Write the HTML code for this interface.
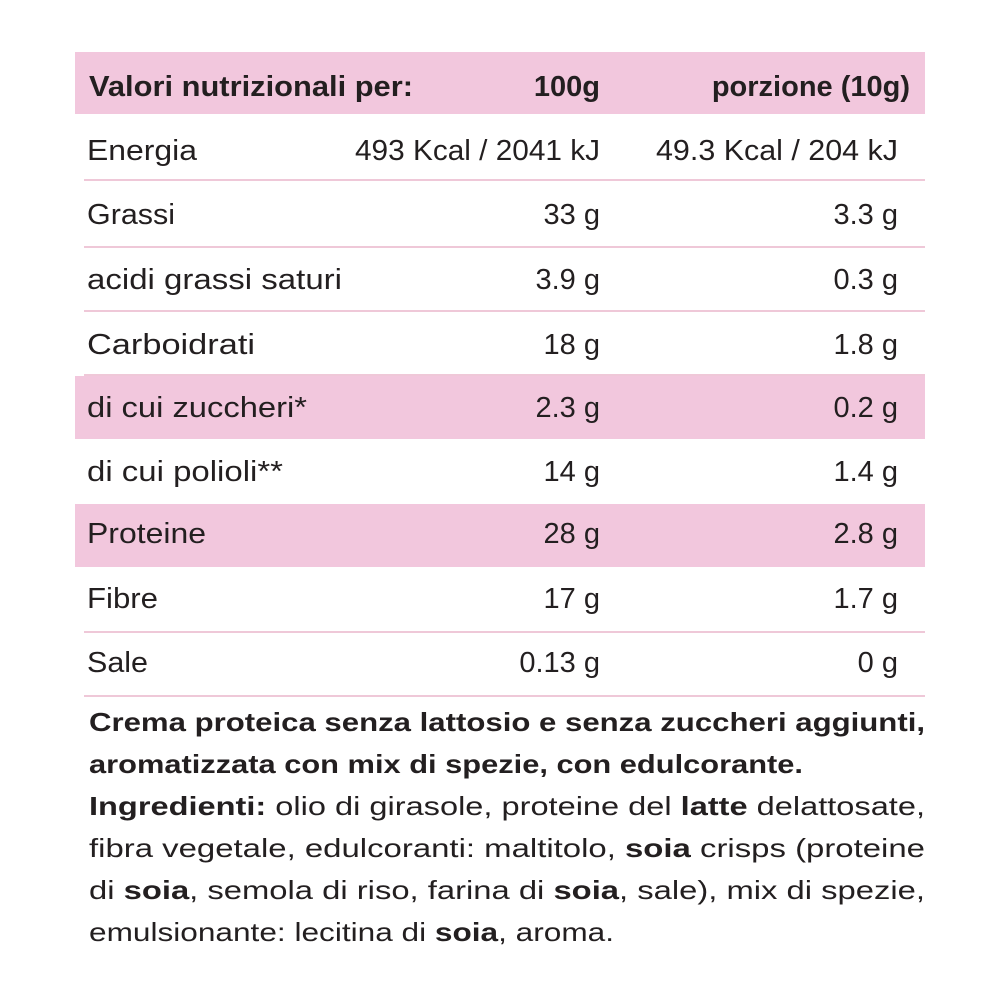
<!DOCTYPE html>
<html><head><style>html,body{margin:0;padding:0;background:#fff}svg{display:block}</style></head>
<body>
<svg width="1000" height="1000" viewBox="0 0 1000 1000" xmlns="http://www.w3.org/2000/svg" font-family="Liberation Sans, sans-serif" fill="#231f20">
<rect x="75" y="52" width="850" height="62" fill="#f2c7dd"/>
<rect x="75" y="376" width="850" height="63" fill="#f2c7dd"/>
<rect x="75" y="504" width="850" height="63" fill="#f2c7dd"/>
<g fill="#efc8d8">
<rect x="84" y="179" width="841" height="2"/>
<rect x="84" y="246" width="841" height="2"/>
<rect x="84" y="310" width="841" height="2"/>
<rect x="84" y="374" width="841" height="2"/>
<rect x="84" y="631" width="841" height="2"/>
<rect x="84" y="695" width="841" height="2"/>
</g>
<g font-size="29" font-weight="bold">
<text x="89" y="96" textLength="324" lengthAdjust="spacingAndGlyphs">Valori nutrizionali per:</text>
<text x="600" y="96" text-anchor="end">100g</text>
<text x="910" y="96" text-anchor="end">porzione (10g)</text>
</g>
<g font-size="29">
<text x="87" y="160" textLength="110" lengthAdjust="spacingAndGlyphs">Energia</text>
<text x="355" y="160" textLength="245" lengthAdjust="spacingAndGlyphs">493 Kcal / 2041 kJ</text>
<text x="656" y="160" textLength="242" lengthAdjust="spacingAndGlyphs">49.3 Kcal / 204 kJ</text>
<text x="87" y="224" textLength="88" lengthAdjust="spacingAndGlyphs">Grassi</text>
<text x="600" y="224" text-anchor="end">33 g</text>
<text x="898" y="224" text-anchor="end">3.3 g</text>
<text x="87" y="289" textLength="255" lengthAdjust="spacingAndGlyphs">acidi grassi saturi</text>
<text x="600" y="289" text-anchor="end">3.9 g</text>
<text x="898" y="289" text-anchor="end">0.3 g</text>
<text x="87" y="354" textLength="168" lengthAdjust="spacingAndGlyphs">Carboidrati</text>
<text x="600" y="354" text-anchor="end">18 g</text>
<text x="898" y="354" text-anchor="end">1.8 g</text>
<text x="87" y="417" textLength="220" lengthAdjust="spacingAndGlyphs">di cui zuccheri*</text>
<text x="600" y="417" text-anchor="end">2.3 g</text>
<text x="898" y="417" text-anchor="end">0.2 g</text>
<text x="87" y="481" textLength="196" lengthAdjust="spacingAndGlyphs">di cui polioli**</text>
<text x="600" y="481" text-anchor="end">14 g</text>
<text x="898" y="481" text-anchor="end">1.4 g</text>
<text x="87" y="543" textLength="119" lengthAdjust="spacingAndGlyphs">Proteine</text>
<text x="600" y="543" text-anchor="end">28 g</text>
<text x="898" y="543" text-anchor="end">2.8 g</text>
<text x="87" y="608" textLength="71" lengthAdjust="spacingAndGlyphs">Fibre</text>
<text x="600" y="608" text-anchor="end">17 g</text>
<text x="898" y="608" text-anchor="end">1.7 g</text>
<text x="87" y="672" textLength="61" lengthAdjust="spacingAndGlyphs">Sale</text>
<text x="600" y="672" text-anchor="end">0.13 g</text>
<text x="898" y="672" text-anchor="end">0 g</text>
</g>
<g font-size="26">
<text x="89" y="731" font-weight="bold" textLength="836" lengthAdjust="spacingAndGlyphs">Crema proteica senza lattosio e senza zuccheri aggiunti,</text>
<text x="89" y="773" font-weight="bold" textLength="714" lengthAdjust="spacingAndGlyphs">aromatizzata con mix di spezie, con edulcorante.</text>
<text x="89" y="815" textLength="836" lengthAdjust="spacingAndGlyphs"><tspan font-weight="bold">Ingredienti:</tspan> olio di girasole, proteine del <tspan font-weight="bold">latte</tspan> delattosate,</text>
<text x="89" y="857" textLength="836" lengthAdjust="spacingAndGlyphs">fibra vegetale, edulcoranti: maltitolo, <tspan font-weight="bold">soia</tspan> crisps (proteine</text>
<text x="89" y="899" textLength="836" lengthAdjust="spacingAndGlyphs">di <tspan font-weight="bold">soia</tspan>, semola di riso, farina di <tspan font-weight="bold">soia</tspan>, sale), mix di spezie,</text>
<text x="89" y="941" textLength="525" lengthAdjust="spacingAndGlyphs">emulsionante: lecitina di <tspan font-weight="bold">soia</tspan>, aroma.</text>
</g>
</svg>
</body></html>
